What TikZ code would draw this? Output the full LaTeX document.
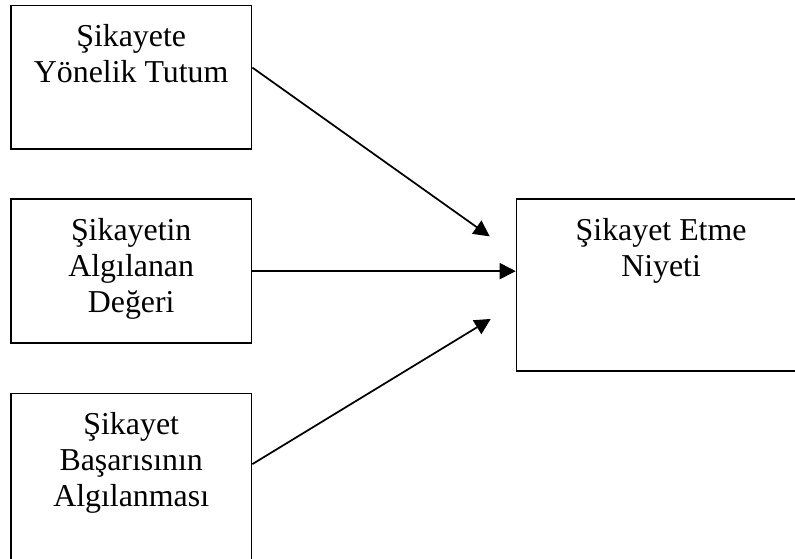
\documentclass[tikz,border=0pt]{standalone}
\usepackage{fontspec}
\setmainfont{Liberation Serif}
\usetikzlibrary{arrows.meta, positioning}

\begin{document}
\begin{tikzpicture}[node distance=36.4pt and 197.5pt,
  every node/.style={font=\fontsize{23.9}{27}\selectfont},
  box/.style={draw, line width=1.3pt, minimum width=180.5pt, inner sep=0pt},
  txt/.style={align=center, inner sep=0pt},
  >={Triangle[length=12pt, width=12pt]}]

\clip (0,0) rectangle (596.25pt,-418.5pt);

% Boxes
\node (tutum) [box, minimum height=107.5pt, anchor=north west] at (7.5pt,-3.5pt) {};
\node (deger) [box, minimum height=108pt, below=of tutum] {};
\node (basari) [box, minimum height=125.25pt, below=of deger] {};
\node (niyet) [box, minimum width=216.75pt, minimum height=128.7pt, right=of deger.north east, anchor=north west] {};

% Texts
\node (t1) [txt, below=14.7pt of tutum.north] {Şikayete\\Yönelik Tutum};
\node (t2) [txt, below=14.7pt of deger.north] {Şikayetin\\Algılanan\\Değeri};
\node (t3) [txt, below=14.7pt of basari.north] {Şikayet\\Başarısının\\Algılanması};
\node (t4) [txt, below=14.7pt of niyet.north] {Şikayet Etme\\Niyeti};

% Arrows
\coordinate (end1) at ([xshift=-19.5pt, yshift=36.4pt]niyet.west);
\coordinate (end3) at ([xshift=-18.75pt, yshift=-25.5pt]niyet.west);
\draw[->, line width=1.3pt] ([yshift=7.2pt]tutum.east) -- (end1);
\draw[->, line width=1.3pt] (deger.east) -- (deger.east -| niyet.west);
\draw[->, line width=1.3pt] ([yshift=9.6pt]basari.east) -- (end3);

\end{tikzpicture}
\end{document}
